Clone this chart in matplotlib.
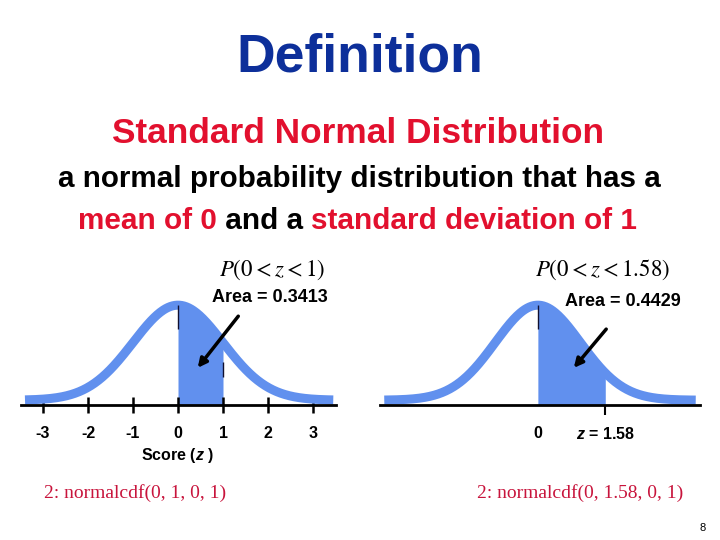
import numpy as np
import matplotlib
matplotlib.use("Agg")
import matplotlib.pyplot as plt

plt.rcParams['font.family'] = ['Liberation Sans', 'DejaVu Sans']
plt.rcParams['mathtext.fontset'] = 'custom'
plt.rcParams['mathtext.it'] = 'Liberation Sans:italic:bold'
plt.rcParams['mathtext.rm'] = 'Liberation Sans:bold'

# data
left_ticks = [-3, -2, -1, 0, 1, 2, 3]
left_ticklabels = ['-3', '-2', '-1', '0', '1', '2', '3']
left_range = (0, 1)
left_area = 0.3413
right_ticks = [0, 1.58]
right_ticklabels = ['0', '$z$ = 1.58']
right_range = (0, 1.58)
right_area = 0.4429

blue = '#6190ee'
red = '#e2102e'
navy = '#0d2f9a'
cdf_red = '#c8143c'

W, H = 720, 540
fig = plt.figure(figsize=(7.2, 5.4), dpi=100)


def px(x, y):
    return x / W, 1 - y / H


def txt(x, y, s, **kw):
    return fig.text(*px(x, y), s, **kw)


def pdf(z):
    return np.exp(-z ** 2 / 2) / np.sqrt(2 * np.pi)


# titles
txt(360, 72, 'Definition', ha='center', va='baseline', fontsize=38.5,
    fontweight='bold', color=navy)
txt(358, 143, 'Standard Normal Distribution', ha='center', va='baseline',
    fontsize=25.4, fontweight='bold', color=red)
txt(359, 187, 'a normal probability distribution that has a', ha='center',
    va='baseline', fontsize=21.3, fontweight='bold', color='black')
t1 = txt(78, 235, 'mean of 0', ha='left', va='bottom', fontsize=21.4,
         fontweight='bold', color=red)
a2 = fig.add_artist(plt.Annotation(' and a ', xy=(1, 0), xycoords=t1,
                                   va='bottom', ha='left', fontsize=21.4,
                                   fontweight='bold', color='black'))
a3 = fig.add_artist(plt.Annotation('standard deviation of 1', xy=(1, 0),
                                   xycoords=a2, va='bottom', ha='left',
                                   fontsize=21.4, fontweight='bold', color=red))


def draw_curve(ax, xlim, lo, hi, curve_lo, curve_hi):
    z = np.linspace(curve_lo, curve_hi, 400)
    ax.plot(z, pdf(z), color=blue, lw=6.5, solid_capstyle='butt')
    zf = np.linspace(lo, hi, 200)
    ax.fill_between(zf, -0.02, pdf(zf) + 0.01, color=blue, lw=0)
    # thin dark edge on the left side of the shaded area
    ax.vlines(lo, 0.75 * pdf(lo), pdf(lo), color='#101030', lw=1)
    ax.set_xlim(*xlim)
    ax.set_ylim(-0.1, 0.45)
    for s in ['left', 'right', 'top']:
        ax.spines[s].set_visible(False)
    ax.spines['bottom'].set_position(('data', -0.02))
    ax.spines['bottom'].set_linewidth(2)
    ax.set_yticks([])
    ax.patch.set_alpha(0)


# left curve: pixel = 178 + 45 * z, axis line at y = 405
axL = fig.add_axes([px(20.5, 0)[0], px(0, 424)[1], 315 / W, 131 / H])
draw_curve(axL, (-3.5, 3.5), *left_range, -3.4, 3.45)
axL.vlines(left_range[1], 0.4 * pdf(left_range[1]),
           0.66 * pdf(left_range[1]), color='#101030', lw=1)
axL.set_xticks(left_ticks)
axL.set_xticklabels(left_ticklabels, fontsize=11.5, fontweight='bold')
axL.tick_params(axis='x', direction='inout', length=12, width=1.8, pad=9)
axL.set_xlabel('Score ($z$ )', fontsize=11.5, fontweight='bold', labelpad=4)

# right curve: pixel = 540 + 42 * z
axR = fig.add_axes([px(380, 0)[0], px(0, 424)[1], 320 / W, 131 / H])
draw_curve(axR, (-3.8, 3.8), *right_range, -3.6, 3.7)
axR.set_xlim(-3.7, 3.8)
axR.set_xticks(right_ticks)
axR.set_xticklabels(right_ticklabels, fontsize=11.5, fontweight='bold')
axR.tick_params(axis='x', direction='out', length=7, width=1.5, pad=8)
axR.get_xaxis().get_major_ticks()[0].tick1line.set_visible(False)

# probability labels and arrows
txt(272, 270, r'$P(0 < z < 1)$', ha='center', va='center', fontsize=16.5,
    math_fontfamily='stix')
txt(270, 298, 'Area = %.4f' % left_area, ha='center', va='center',
    fontsize=13, fontweight='bold')
fig.add_artist(plt.Annotation('', xy=px(196, 370), xytext=px(240, 314),
                              xycoords='figure fraction',
                              arrowprops=dict(arrowstyle='-|>', lw=2.5,
                                              color='black',
                                              mutation_scale=13)))
txt(603, 270, r'$P(0 < z < 1.58)$', ha='center', va='center', fontsize=16.5,
    math_fontfamily='stix')
txt(623, 302, 'Area = %.4f' % right_area, ha='center', va='center',
    fontsize=13, fontweight='bold')
fig.add_artist(plt.Annotation('', xy=px(572, 370), xytext=px(608, 327),
                              xycoords='figure fraction',
                              arrowprops=dict(arrowstyle='-|>', lw=2.5,
                                              color='black',
                                              mutation_scale=13)))

# calculator commands
txt(135, 493, '2: normalcdf(0, 1, 0, 1)', ha='center', va='center',
    fontsize=14, family='Liberation Serif', color=cdf_red)
txt(580, 493, '2: normalcdf(0, 1.58, 0, 1)', ha='center', va='center',
    fontsize=14, family='Liberation Serif', color=cdf_red)
txt(703, 528, '8', ha='center', va='center', fontsize=8)

fig.savefig('out.png', dpi=100)
